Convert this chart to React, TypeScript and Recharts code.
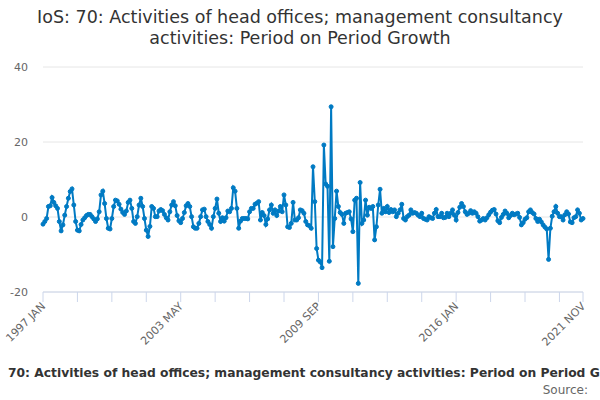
import React from "react";
import { LineChart, Line, XAxis, YAxis, CartesianGrid } from "recharts";

const FONT = "'DejaVu Sans', sans-serif";
const BLUE = "#007ac3";

const START_YEAR = 1997;
const MONTHS = ["JAN", "FEB", "MAR", "APR", "MAY", "JUN", "JUL", "AUG", "SEP", "OCT", "NOV", "DEC"];

// period on period growth, %, one row per year
const g1997 = [-1.9, -1.2, -0.4, 2.8, 3.0, 5.2, 3.9, 3.0, 2.3, -1.2, -3.7, -2.1];
const g1998 = [0.5, 2.8, 5.0, 6.8, 7.5, 3.2, -1.2, -3.5, -3.7, -2.0, -0.8, -0.2];
const g1999 = [0.4, 0.7, 0.7, 0.1, -0.5, -1.2, -0.5, 1.4, 5.9, 6.9, 3.6, -0.4];
const g2000 = [-3.0, -3.2, -0.4, 2.8, 4.5, 4.3, 3.4, 2.1, 1.2, 0.7, 1.6, 3.9];
const g2001 = [4.5, 2.3, -1.2, -1.7, 0.1, 3.2, 5.0, 2.8, -0.4, -3.5, -5.2, -2.5];
const g2002 = [2.8, 2.3, 0.1, 0.1, 1.6, 2.0, 1.7, 0.7, -0.2, -0.8, 1.4, 3.2];
const g2003 = [4.1, 3.0, 0.4, -1.0, -1.5, -0.4, 1.2, 3.0, 3.6, 2.8, 0.1, -2.6];
const g2004 = [-3.0, -3.0, -1.7, 0.1, 1.9, 2.1, 0.1, -1.2, -2.0, -3.0, 0.1, 2.3];
const g2005 = [4.8, 1.0, -1.2, -0.2, -1.1, -0.2, 1.6, 1.4, 2.3, 7.8, 6.9, 2.3];
const g2006 = [-3.0, -1.1, -0.4, -0.4, -0.4, -0.5, 1.4, 2.3, 2.3, 3.4, 3.7, 4.1];
const g2007 = [-0.8, 1.2, 0.4, -2.0, -0.5, 1.9, 3.2, 1.0, 1.9, 0.4, 1.6, 2.8];
const g2008 = [1.4, 5.9, 3.2, -2.6, -2.8, -1.7, 3.9, -0.8, -0.8, -0.2, 1.9, 1.7];
const g2009 = [1.0, -1.2, -2.1, -2.3, -3.0, 13.4, 4.1, -8.4, -11.5, -12.0, -13.5, 19.2];
const g2010 = [8.8, 8.2, -11.8, 29.4, -7.9, -0.4, 6.9, 2.8, 1.2, 0.7, -1.7, 1.0];
const g2011 = [1.2, 1.4, -0.5, -3.9, 4.5, 5.0, -17.7, 9.2, -1.7, -0.8, 4.5, 0.5];
const g2012 = [2.6, 2.3, 2.8, -6.1, -2.6, 3.2, 7.4, 1.0, 2.3, 1.4, 2.8, 1.2];
const g2013 = [2.0, 1.4, 1.9, 0.1, 1.0, 1.9, 3.4, -0.4, -0.8, 0.1, 0.5, 1.9];
const g2014 = [1.0, 1.2, 1.0, 0.5, 0.1, 1.0, -0.4, -0.6, -0.8, 0.1, -0.2, -0.4];
const g2015 = [1.0, 2.0, 0.1, 0.1, 1.0, -0.2, -0.1, 1.0, 0.1, 1.0, 1.9, 0.5];
const g2016 = [-0.8, 1.2, 2.6, 3.6, 2.8, 1.4, 0.7, 1.0, 1.7, 1.0, 1.4, 1.0];
const g2017 = [0.1, -1.1, -0.8, -0.4, -0.8, -0.2, 0.6, 1.3, 1.8, 2.0, 0.8, -1.0];
const g2018 = [-1.5, -0.1, 0.7, 1.6, 1.0, -0.2, 0.4, 1.0, 0.6, 0.8, 1.0, -0.1];
const g2019 = [-2.1, -1.5, -0.6, -0.2, 1.4, 1.9, 1.2, 0.8, -0.4, -1.2, -0.6, -1.3];
const g2020 = [-2.1, -2.7, -3.2, -11.3, -3.0, 0.2, 1.4, 2.8, 1.0, 0.1, 0.1, -0.8];
const g2021 = [0.6, 1.4, 0.8, -1.3, -1.5, -0.2, 0.1, 1.9, 1.0, -0.8, -0.4];

const GROWTH = [
  ...g1997, ...g1998, ...g1999, ...g2000, ...g2001, ...g2002, ...g2003, ...g2004,
  ...g2005, ...g2006, ...g2007, ...g2008, ...g2009, ...g2010, ...g2011, ...g2012,
  ...g2013, ...g2014, ...g2015, ...g2016, ...g2017, ...g2018, ...g2019, ...g2020,
  ...g2021,
];

const CATEGORIES = GROWTH.map(
  (_, i) => `${START_YEAR + Math.floor(i / 12)} ${MONTHS[i % 12]}`
);

// tick marks every 19 months, labels on every 4th mark and the last month
const TICK_MARKS = CATEGORIES.filter((_, i) => i % 19 === 0 || i === CATEGORIES.length - 1);
const TICK_LABELS = ["1997 JAN", "2003 MAY", "2009 SEP", "2016 JAN", "2021 NOV"];
const Y_TICKS = [-20, 0, 20, 40];

const rows = CATEGORIES.map((month, i) => ({ month, growth: GROWTH[i] }));

function XTick(props: any) {
  const { x, y, payload } = props;
  if (!TICK_LABELS.includes(payload.value)) return <g />;
  const tx = x + 3;
  const ty = y + 3;
  return (
    <text
      x={tx}
      y={ty}
      transform={`rotate(-45 ${tx} ${ty})`}
      textAnchor="end"
      fontSize={11}
      fill="#666"
      fontFamily={FONT}
    >
      {payload.value}
    </text>
  );
}

function YTick(props: any) {
  const { y, payload } = props;
  return (
    <text x={28} y={y + 4} textAnchor="end" fontSize={11} fill="#666" fontFamily={FONT}>
      {payload.value}
    </text>
  );
}

export default function App() {
  return (
    <div
      style={{
        position: "absolute",
        left: 0,
        top: 0,
        width: 600,
        height: 400,
        overflow: "hidden",
        background: "#fff",
        fontFamily: FONT,
      }}
    >
      <div
        style={{
          position: "absolute",
          top: 7,
          left: 0,
          width: 600,
          textAlign: "center",
          fontSize: 17.5,
          lineHeight: "21px",
          color: "#333",
        }}
      >
        IoS: 70: Activities of head offices; management consultancy
        <br />
        activities: Period on Period Growth
      </div>

      <LineChart
        width={600}
        height={400}
        data={rows}
        margin={{ top: 67, right: 17, bottom: 78, left: 0 }}
      >
        <CartesianGrid vertical={false} stroke="#e6e6e6" />
        <XAxis
          dataKey="month"
          height={30}
          ticks={TICK_MARKS}
          interval={0}
          tick={<XTick />}
          tickSize={10}
          axisLine={{ stroke: "#ccd6eb" }}
          tickLine={{ stroke: "#ccd6eb" }}
        />
        <YAxis
          width={43}
          domain={[-20, 40]}
          ticks={Y_TICKS}
          axisLine={false}
          tickLine={false}
          tick={<YTick />}
        />
        <Line
          type="linear"
          dataKey="growth"
          stroke={BLUE}
          strokeWidth={2}
          dot={{ r: 2, fill: BLUE, stroke: BLUE, strokeWidth: 1 }}
          isAnimationActive={false}
        />
      </LineChart>

      <div
        style={{
          position: "absolute",
          top: 366,
          left: 8,
          whiteSpace: "nowrap",
          fontSize: 12.3,
          lineHeight: "14px",
          fontWeight: "bold",
          color: "#333",
        }}
      >
        70: Activities of head offices; management consultancy activities: Period on Period Growth
      </div>
      <div
        style={{
          position: "absolute",
          top: 383,
          right: 12,
          whiteSpace: "nowrap",
          fontSize: 12,
          lineHeight: "14px",
          color: "#666",
        }}
      >
        Source:
      </div>
    </div>
  );
}
